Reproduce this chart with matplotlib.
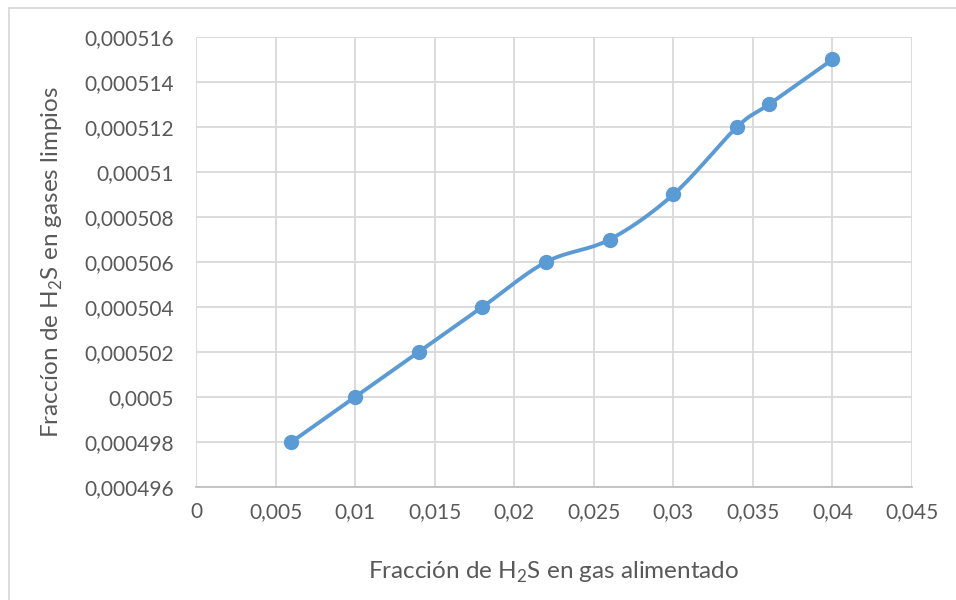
import numpy as np
import matplotlib.pyplot as plt
from matplotlib.ticker import FuncFormatter, MultipleLocator
from matplotlib.lines import Line2D

plt.rcParams['font.family'] = ['Lato', 'DejaVu Sans']
plt.rcParams['mathtext.fontset'] = 'custom'
plt.rcParams['mathtext.rm'] = 'Lato'

# data
x_feed = [0.006, 0.010, 0.014, 0.018, 0.022, 0.026, 0.030, 0.034, 0.036, 0.040]
y_clean = [0.000498, 0.000500, 0.000502, 0.000504, 0.000506,
           0.000507, 0.000509, 0.000512, 0.000513, 0.000515]

x_label = 'Fracción de H$_2$S en gas alimentado'
y_label = 'Fraccíon de H$_2$S en gases limpios'

blue = '#5b9bd5'
txt = '#595959'
grid = '#d9d9d9'

xlim = (0, 0.045)
ylim = (0.000496, 0.000516)


def smooth(xs, ys, n=30):
    # Excel-like smoothed line: cardinal spline in normalised coords
    px = (np.array(xs) - xlim[0]) / (xlim[1] - xlim[0])
    py = (np.array(ys) - ylim[0]) / (ylim[1] - ylim[0]) * 450 / 716
    P = np.column_stack([px, py])
    out = []
    for i in range(len(P) - 1):
        p0 = P[i - 1] if i > 0 else P[i]
        p1 = P[i]
        p2 = P[i + 1]
        p3 = P[i + 2] if i + 2 < len(P) else P[i + 1]
        c1 = p1 + (p2 - p0) / 6
        c2 = p2 - (p3 - p1) / 6
        t = np.linspace(0, 1, n)[:, None]
        seg = ((1 - t) ** 3) * p1 + 3 * ((1 - t) ** 2) * t * c1 + 3 * (1 - t) * t ** 2 * c2 + t ** 3 * p2
        out.append(seg)
    seg = np.vstack(out)
    sx = seg[:, 0] * (xlim[1] - xlim[0]) + xlim[0]
    sy = seg[:, 1] * 716 / 450 * (ylim[1] - ylim[0]) + ylim[0]
    return sx, sy


def excel_fmt(v, pos):
    s = '{:.6f}'.format(v).rstrip('0').rstrip('.')
    return s.replace('.', ',')


fig = plt.figure(figsize=(9.56, 6), dpi=100)
ax = fig.add_axes([196 / 956, 1 - 487 / 600, 716 / 956, 450 / 600])

sx, sy = smooth(x_feed, y_clean)
ax.plot(sx, sy, color=blue, lw=2.8, solid_capstyle='round', zorder=3)
ax.plot(x_feed, y_clean, 'o', color=blue, ms=10, zorder=4)

ax.set_xlim(*xlim)
ax.set_ylim(*ylim)
ax.xaxis.set_major_locator(MultipleLocator(0.005))
ax.yaxis.set_major_locator(MultipleLocator(0.000002))
ax.xaxis.set_major_formatter(FuncFormatter(excel_fmt))
ax.yaxis.set_major_formatter(FuncFormatter(excel_fmt))
ax.grid(True, color=grid, lw=1.3)
ax.set_axisbelow(True)
for s in ['top', 'right', 'left']:
    ax.spines[s].set_visible(False)
ax.spines['bottom'].set_color('#bfbfbf')
ax.spines['bottom'].set_linewidth(1.3)
ax.tick_params(length=0, labelsize=15, colors=txt)
ax.tick_params(axis='y', pad=16)
ax.tick_params(axis='x', pad=11)

ax.set_xlabel(x_label, fontsize=17.5, color=txt, labelpad=27)
ax.set_ylabel(y_label, fontsize=17.5, color=txt, labelpad=14)

# outer chart border
fig.add_artist(Line2D([9 / 956, 9 / 956], [0, 1 - 8 / 600], color=grid, lw=1.3, transform=fig.transFigure))
fig.add_artist(Line2D([9 / 956, 1], [1 - 8 / 600, 1 - 8 / 600], color=grid, lw=1.3, transform=fig.transFigure))

fig.savefig('out.png', dpi=100)
